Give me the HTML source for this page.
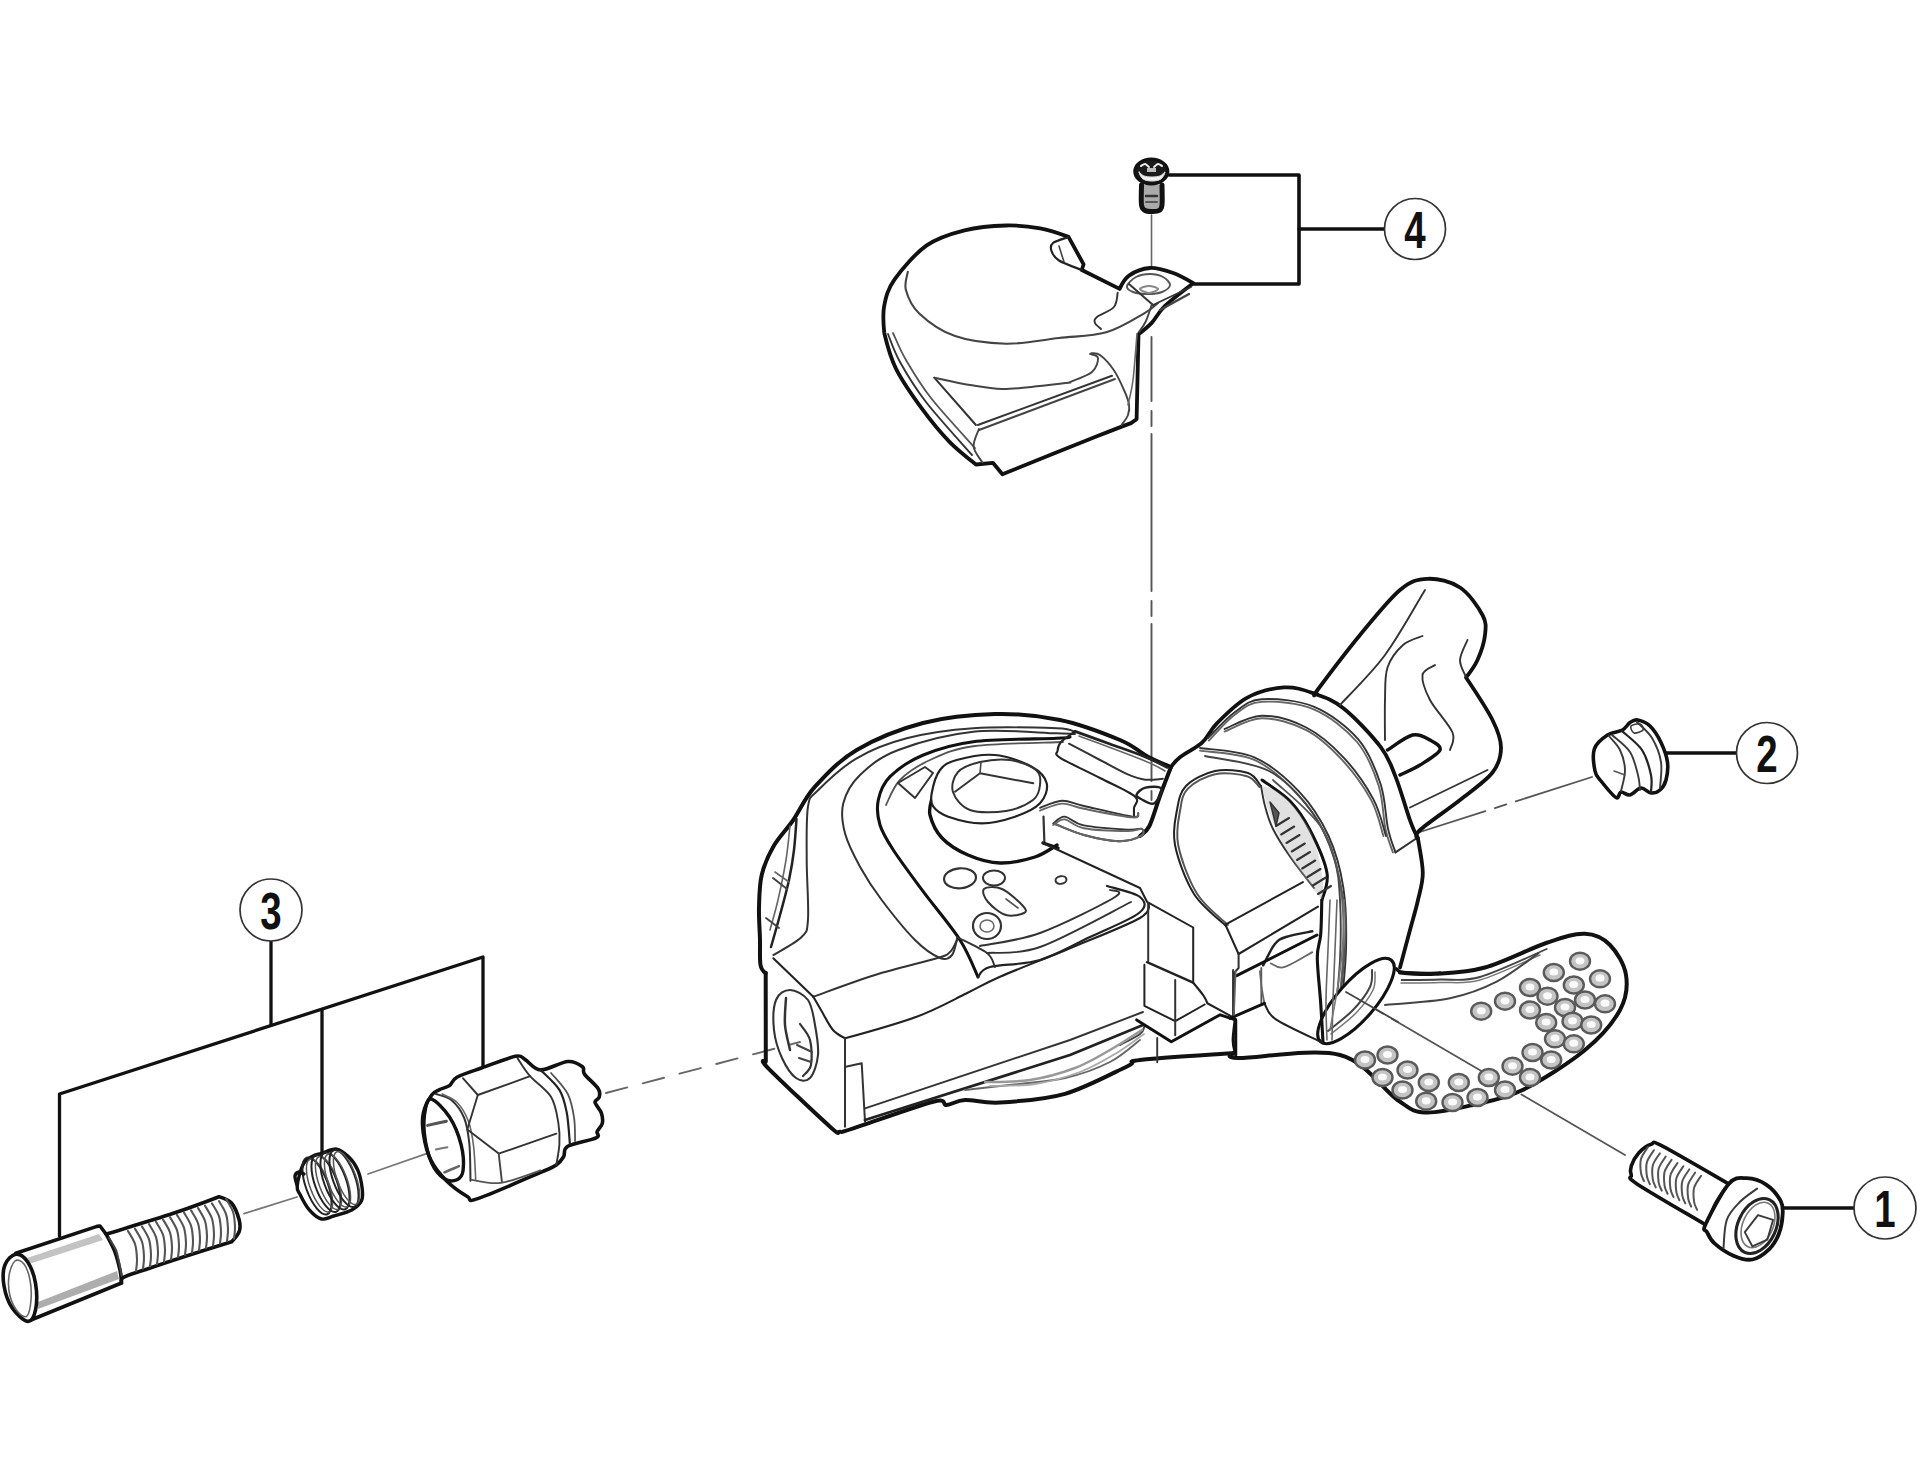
<!DOCTYPE html>
<html><head><meta charset="utf-8"><style>html,body{margin:0;padding:0;background:#fff;}svg{display:block;}</style></head><body><svg width="1920" height="1481" viewBox="0 0 1920 1481" stroke-linecap="round" stroke-linejoin="round"><rect width="1920" height="1481" fill="#fff"/><g>
<path d="M1151.5 215 L1151.5 270" stroke="#666" stroke-width="1.6" fill="none"/>
<path d="M1151.5 337 L1151.5 800" stroke="#555" stroke-width="1.9" fill="none" stroke-dasharray="64 10 15 8 157 10 15 8 157 10 15 8 157"/>
<path d="M1592 777 L1420 832" stroke="#555" stroke-width="1.8" fill="none" stroke-dasharray="80 10 12 10"/>
<path d="M1625 1155 L1346 992" stroke="#555" stroke-width="1.8" fill="none" stroke-dasharray="120 10 10 10"/>
<path d="M606 1093 L800 1042" stroke="#666" stroke-width="1.9" fill="none" stroke-dasharray="22 16"/>
<path d="M244 1213.6 L297 1197" stroke="#777" stroke-width="1.8" fill="none"/>
<path d="M368 1174 L446.7 1146.7" stroke="#777" stroke-width="1.8" fill="none"/>
<path d="M1169 175 L1299 175 L1299 284 L1194 284" stroke="#111" stroke-width="3.6" fill="none"/>
<path d="M1299 229 L1385 229" stroke="#111" stroke-width="3.6" fill="none"/>
<path d="M1665 753 L1737 753" stroke="#111" stroke-width="3.6" fill="none"/>
<path d="M1783 1208 L1854 1208" stroke="#111" stroke-width="3.4" fill="none"/>
<path d="M271 941 L271 1025" stroke="#111" stroke-width="3.3" fill="none"/>
<path d="M59.5 1236 L59.5 1094 L483 957 L483 1066" stroke="#111" stroke-width="3.3" fill="none"/>
<path d="M322 1010 L322 1152" stroke="#111" stroke-width="3.3" fill="none"/>
<circle cx="1415" cy="229" r="30.5" stroke="#333" stroke-width="1.7" fill="#fff"/>
<g transform="translate(1415 229) scale(0.74 1)"><text x="0" y="18.5" font-family="Liberation Sans" font-weight="bold" font-size="52" text-anchor="middle" fill="#111">4</text></g>
<circle cx="1767" cy="753" r="30.5" stroke="#333" stroke-width="1.7" fill="#fff"/>
<g transform="translate(1767 753) scale(0.74 1)"><text x="0" y="18.5" font-family="Liberation Sans" font-weight="bold" font-size="52" text-anchor="middle" fill="#111">2</text></g>
<circle cx="1885" cy="1208" r="31" stroke="#333" stroke-width="1.7" fill="#fff"/>
<g transform="translate(1885 1208) scale(0.74 1)"><text x="0" y="18.5" font-family="Liberation Sans" font-weight="bold" font-size="52" text-anchor="middle" fill="#111">1</text></g>
<circle cx="271" cy="910" r="31" stroke="#333" stroke-width="1.7" fill="#fff"/>
<g transform="translate(271 910) scale(0.74 1)"><text x="0" y="18.5" font-family="Liberation Sans" font-weight="bold" font-size="52" text-anchor="middle" fill="#111">3</text></g>
<path d="M1141.5 185 C1141.5 188.3 1140.9 200.8 1141.5 205 C1142.1 209.2 1143.2 209.4 1145 210.5 C1146.8 211.6 1149.7 211.5 1152 211.5 C1154.3 211.5 1157.3 211.6 1159 210.5 C1160.7 209.4 1161.5 209.2 1162 205 C1162.5 200.8 1162 188.3 1162 185" stroke="#111" stroke-width="5" fill="#aaa"/>
<path d="M1146 196 L1157 196" stroke="#333" stroke-width="2.5" fill="none"/>
<path d="M1146 202 L1157 202" stroke="#555" stroke-width="2" fill="none"/>
<ellipse cx="1151.3" cy="171.5" rx="16.5" ry="12.5" transform="rotate(0 1151.3 171.5)" stroke="#111" stroke-width="3.1" fill="#1a1a1a"/>
<path d="M1139 172 C1138.8 172.5 1140.8 177.5 1143 179 C1145.2 180.5 1149 181 1152 181 C1155 181 1158.8 180.5 1161 179 C1163.2 177.5 1165.2 172.5 1165 172 C1164.8 171.5 1162.2 175.2 1160 176 C1157.8 176.8 1154.7 177 1152 177 C1149.3 177 1146.2 176.8 1144 176 C1141.8 175.2 1139.2 171.5 1139 172Z" stroke="#ddd" stroke-width="1" fill="#f2f2f2"/>
<path d="M1141 166 C1141.7 165.7 1143.7 163.8 1145 164 C1146.3 164.2 1148.3 166.5 1149 167" stroke="#eee" stroke-width="2" fill="none"/>
<path d="M1154 167 C1154.7 166.5 1156.7 164.2 1158 164 C1159.3 163.8 1161.3 165.7 1162 166" stroke="#eee" stroke-width="2" fill="none"/>
<rect x="1147" y="168" width="9" height="4" fill="#bbb"/>
<path d="M1594.4 748.8 C1596.5 742.8 1602.8 738.1 1607.5 735 C1612.2 731.9 1618.8 732.1 1622.5 730 C1626.2 727.9 1627.5 724.2 1630 722.5 C1632.5 720.8 1634.2 719.4 1637.5 720 C1640.8 720.6 1646.1 722.2 1650 726 C1653.9 729.8 1658.1 736.4 1661 742.5 C1663.9 748.6 1666.7 756.2 1667.5 762.5 C1668.3 768.8 1667.2 775.4 1666 780 C1664.8 784.6 1662.5 787.8 1660 790 C1657.5 792.2 1654.2 793.3 1651 793 C1647.8 792.7 1644.5 787.7 1641 788 C1637.5 788.3 1633.3 794.3 1630 795 C1626.7 795.7 1623.3 791.6 1621 792 C1618.7 792.4 1619.3 799.3 1616 797.5 C1612.7 795.7 1604.5 785.4 1601 781 C1597.5 776.6 1596.1 776.4 1595 771 C1593.9 765.6 1592.3 754.8 1594.4 748.8Z" stroke="#111" stroke-width="3.6" fill="#fff"/>
<path d="M1609 736 C1610.8 738.3 1617.3 744.3 1620 750 C1622.7 755.7 1624.8 763.2 1625 770 C1625.2 776.8 1621.7 787.5 1621 791" stroke="#3a3a3a" stroke-width="1.9" fill="none"/>
<path d="M1612 735 C1615 737.8 1625.7 745.3 1630 752 C1634.3 758.7 1636.3 768.7 1638 775 C1639.7 781.3 1639.7 787.5 1640 790" stroke="#3a3a3a" stroke-width="1.9" fill="none"/>
<path d="M1622 731 C1625.3 734.2 1637.2 742.7 1642 750 C1646.8 757.3 1649.5 768 1651 775 C1652.5 782 1651 789.2 1651 792" stroke="#222" stroke-width="2.2" fill="none"/>
<path d="M1637 722 C1639.5 724.7 1648 731.3 1652 738 C1656 744.7 1659.7 753.7 1661 762 C1662.3 770.3 1660.2 783.7 1660 788" stroke="#3a3a3a" stroke-width="1.9" fill="none"/>
<path d="M1631 726 C1632 724.5 1638 723.3 1640 724 C1642 724.7 1644 728.5 1643 730 C1642 731.5 1636 733.7 1634 733 C1632 732.3 1630 727.5 1631 726Z" stroke="#3a3a3a" stroke-width="1.6" fill="none"/>
<path d="M1614 771 L1625 775" stroke="#555" stroke-width="1.5" fill="none"/>
<path d="M1705.1 1224.5 C1693.8 1217.7 1649.3 1192.1 1637 1183.9 C1624.7 1175.7 1632.2 1178.4 1631.3 1175.4 C1630.3 1172.4 1630 1169.7 1631.3 1165.9 C1632.6 1162.1 1635.6 1156.3 1638.9 1152.7 C1642.2 1149.1 1647.3 1145.3 1651.2 1144.2 C1655.1 1143.1 1649.6 1139.5 1662.5 1146.1 C1675.4 1152.7 1717.7 1177.6 1728.7 1183.9" stroke="#111" stroke-width="3.6" fill="#fff"/>
<path d="M1648 1147 C1646.8 1149 1642.2 1154.7 1641 1159 C1639.8 1163.3 1640.5 1169.3 1641 1173 C1641.5 1176.7 1643.5 1179.7 1644 1181" stroke="#555" stroke-width="2" fill="none"/>
<path d="M1653.9 1150.2 C1652.7 1152.2 1648.1 1157.9 1646.9 1162.2 C1645.7 1166.5 1646.4 1172.5 1646.9 1176.2 C1647.4 1179.9 1649.4 1182.9 1649.9 1184.2" stroke="#555" stroke-width="2" fill="none"/>
<path d="M1659.8 1153.4 C1658.6 1155.4 1654 1161.1 1652.8 1165.4 C1651.6 1169.7 1652.3 1175.7 1652.8 1179.4 C1653.3 1183.1 1655.3 1186.1 1655.8 1187.4" stroke="#555" stroke-width="2" fill="none"/>
<path d="M1665.7 1156.6 C1664.5 1158.6 1659.9 1164.3 1658.7 1168.6 C1657.5 1172.9 1658.2 1178.9 1658.7 1182.6 C1659.2 1186.3 1661.2 1189.3 1661.7 1190.6" stroke="#555" stroke-width="2" fill="none"/>
<path d="M1671.6 1159.8 C1670.4 1161.8 1665.8 1167.5 1664.6 1171.8 C1663.4 1176.1 1664.1 1182.1 1664.6 1185.8 C1665.1 1189.5 1667.1 1192.5 1667.6 1193.8" stroke="#555" stroke-width="2" fill="none"/>
<path d="M1677.5 1163 C1676.3 1165 1671.7 1170.7 1670.5 1175 C1669.3 1179.3 1670 1185.3 1670.5 1189 C1671 1192.7 1673 1195.7 1673.5 1197" stroke="#555" stroke-width="2" fill="none"/>
<path d="M1683.4 1166.2 C1682.2 1168.2 1677.6 1173.9 1676.4 1178.2 C1675.2 1182.5 1675.9 1188.5 1676.4 1192.2 C1676.9 1195.9 1678.9 1198.9 1679.4 1200.2" stroke="#555" stroke-width="2" fill="none"/>
<path d="M1689.3 1169.4 C1688.1 1171.4 1683.5 1177.1 1682.3 1181.4 C1681.1 1185.7 1681.8 1191.7 1682.3 1195.4 C1682.8 1199.1 1684.8 1202.1 1685.3 1203.4" stroke="#555" stroke-width="2" fill="none"/>
<path d="M1695.2 1172.6 C1694 1174.6 1689.4 1180.3 1688.2 1184.6 C1687 1188.9 1687.7 1194.9 1688.2 1198.6 C1688.7 1202.3 1690.7 1205.3 1691.2 1206.6" stroke="#555" stroke-width="2" fill="none"/>
<path d="M1701.1 1175.8 C1699.9 1177.8 1695.3 1183.5 1694.1 1187.8 C1692.9 1192.1 1693.6 1198.1 1694.1 1201.8 C1694.6 1205.5 1696.6 1208.5 1697.1 1209.8" stroke="#555" stroke-width="2" fill="none"/>
<path d="M1724.9 1187.7 C1723.2 1190.4 1717.2 1198.4 1714.5 1203.7 C1711.8 1209 1709.4 1217.1 1708.4 1219.8" stroke="#3a3a3a" stroke-width="1.9" fill="none"/>
<path d="M1728.7 1183.9 C1735.6 1176.2 1740.4 1178.1 1746.7 1178.2 C1753 1178.3 1760.8 1181 1766.5 1184.8 C1772.2 1188.6 1778 1195.9 1780.7 1200.9 C1783.4 1206 1782.9 1209.6 1782.6 1215.1 C1782.3 1220.6 1781 1228.3 1778.8 1234 C1776.6 1239.7 1773.7 1244.8 1769.3 1249.1 C1764.9 1253.3 1758.3 1258.4 1752.3 1259.5 C1746.3 1260.6 1739.7 1258.4 1733.4 1255.7 C1727.1 1253 1718.9 1247.3 1714.5 1243.4 C1710.1 1239.5 1708.5 1235.2 1707 1232.1 C1705.5 1228.9 1701.9 1232.5 1705.5 1224.5 C1709.1 1216.5 1721.8 1191.6 1728.7 1183.9Z" stroke="#111" stroke-width="3.8" fill="#fff"/>
<path d="M1757.1 1188.6 C1754.2 1190.8 1745 1196.6 1740 1201.8 C1735 1207 1729.5 1212.1 1726.8 1219.8 C1724 1227.5 1724 1243.4 1723.5 1248.1" stroke="#3a3a3a" stroke-width="2" fill="none"/>
<ellipse cx="1757" cy="1226" rx="19" ry="29" transform="rotate(25 1757 1226)" stroke="#222" stroke-width="3.1" fill="none"/>
<ellipse cx="1758" cy="1225" rx="15" ry="24" transform="rotate(25 1758 1225)" stroke="#777" stroke-width="1.6" fill="none"/>
<path d="M1758 1215.1 L1773.1 1219.8 L1767.4 1239.6 L1752.3 1246.3 L1744.8 1232.1 L1758 1215.1" stroke="#3a3a3a" stroke-width="1.9" fill="none"/>
<path d="M15.8 1253.2 L97 1226.4 L100 1226 L106 1234" stroke="#111" stroke-width="3.6" fill="none"/>
<path d="M106 1234 C107.5 1237 112.7 1246 115 1252 C117.3 1258 118.9 1265.2 120 1270 C121.1 1274.8 121.2 1279.2 121.5 1281" stroke="#111" stroke-width="3.6" fill="none"/>
<path d="M29.7 1320.5 L121.5 1283" stroke="#111" stroke-width="3.6" fill="none"/>
<path d="M24 1259 L99 1234 L103 1240 L26 1265Z" fill="#aaa" opacity="0.7"/>
<path d="M38 1302 L117 1271 L119 1279 L38 1309Z" fill="#999" opacity="0.8"/>
<path d="M15.8 1254.2 C12 1254.7 6.9 1259.7 4.9 1265 C2.9 1270.3 2.8 1278.7 4 1285.8 C5.2 1292.9 8 1301.7 11.9 1307.6 C15.8 1313.5 23.8 1321.1 27.7 1321.4 C31.6 1321.7 34.3 1315.9 35.6 1309.6 C36.9 1303.3 36.9 1291.7 35.6 1283.8 C34.3 1275.9 31 1266.9 27.7 1262 C24.4 1257.1 19.6 1253.7 15.8 1254.2Z" stroke="#111" stroke-width="3.6" fill="#fff"/>
<path d="M15 1261 C12.5 1263 9.8 1270.2 9 1276 C8.2 1281.8 8.5 1290 10 1296 C11.5 1302 15.2 1308.7 18 1312 C20.8 1315.3 24.8 1318 27 1316 C29.2 1314 30.5 1306 31 1300 C31.5 1294 31.2 1286 30 1280 C28.8 1274 26.5 1267.2 24 1264 C21.5 1260.8 17.5 1259 15 1261Z" stroke="#666" stroke-width="1.6" fill="none"/>
<path d="M109 1238 C110.2 1240 114.3 1246 116 1250 C117.7 1254 118 1257.7 119 1262 C120 1266.3 121.2 1273.7 121.7 1276" stroke="#444" stroke-width="2" fill="none"/>
<path d="M106.7 1234 C117.8 1230.5 154.6 1219.5 173.3 1213.3 C192 1207.1 219 1196.7 219 1196.7 C219 1196.7 228.3 1199.4 231.7 1203.3 C235.1 1207.2 237.9 1215.3 239.2 1220 C240.4 1224.7 240.4 1228.1 239.2 1231.7 C237.9 1235.3 231.7 1241.7 231.7 1241.7 C231.7 1241.7 196.3 1252.8 181.7 1257.5 C167.1 1262.2 153.9 1266.7 144.2 1270 C134.5 1273.3 127.1 1275.3 123.3 1277.5 C119.5 1279.7 121.8 1282.1 121.5 1283" stroke="#111" stroke-width="3.6" fill="none"/>
<path d="M128 1231 C129.2 1233.2 133.5 1239.3 135 1244 C136.5 1248.7 136.8 1254.5 137 1259 C137.2 1263.5 136.2 1269 136 1271" stroke="#555" stroke-width="2.1" fill="none"/>
<path d="M135 1228.7 C136.2 1230.9 140.5 1237 142 1241.7 C143.5 1246.4 143.8 1252.2 144 1256.7 C144.2 1261.2 143.2 1266.7 143 1268.7" stroke="#555" stroke-width="2.1" fill="none"/>
<path d="M142 1226.4 C143.2 1228.6 147.5 1234.7 149 1239.4 C150.5 1244.1 150.8 1249.9 151 1254.4 C151.2 1258.9 150.2 1264.4 150 1266.4" stroke="#555" stroke-width="2.1" fill="none"/>
<path d="M149 1224.1 C150.2 1226.3 154.5 1232.4 156 1237.1 C157.5 1241.8 157.8 1247.6 158 1252.1 C158.2 1256.6 157.2 1262.1 157 1264.1" stroke="#555" stroke-width="2.1" fill="none"/>
<path d="M156 1221.8 C157.2 1224 161.5 1230.1 163 1234.8 C164.5 1239.5 164.8 1245.3 165 1249.8 C165.2 1254.3 164.2 1259.8 164 1261.8" stroke="#555" stroke-width="2.1" fill="none"/>
<path d="M163 1219.5 C164.2 1221.7 168.5 1227.8 170 1232.5 C171.5 1237.2 171.8 1243 172 1247.5 C172.2 1252 171.2 1257.5 171 1259.5" stroke="#555" stroke-width="2.1" fill="none"/>
<path d="M170 1217.2 C171.2 1219.4 175.5 1225.5 177 1230.2 C178.5 1234.9 178.8 1240.7 179 1245.2 C179.2 1249.7 178.2 1255.2 178 1257.2" stroke="#555" stroke-width="2.1" fill="none"/>
<path d="M177 1214.9 C178.2 1217.1 182.5 1223.2 184 1227.9 C185.5 1232.6 185.8 1238.4 186 1242.9 C186.2 1247.4 185.2 1252.9 185 1254.9" stroke="#555" stroke-width="2.1" fill="none"/>
<path d="M184 1212.6 C185.2 1214.8 189.5 1220.9 191 1225.6 C192.5 1230.3 192.8 1236.1 193 1240.6 C193.2 1245.1 192.2 1250.6 192 1252.6" stroke="#555" stroke-width="2.1" fill="none"/>
<path d="M191 1210.3 C192.2 1212.5 196.5 1218.6 198 1223.3 C199.5 1228 199.8 1233.8 200 1238.3 C200.2 1242.8 199.2 1248.3 199 1250.3" stroke="#555" stroke-width="2.1" fill="none"/>
<path d="M198 1208 C199.2 1210.2 203.5 1216.3 205 1221 C206.5 1225.7 206.8 1231.5 207 1236 C207.2 1240.5 206.2 1246 206 1248" stroke="#555" stroke-width="2.1" fill="none"/>
<path d="M205 1205.7 C206.2 1207.9 210.5 1214 212 1218.7 C213.5 1223.4 213.8 1229.2 214 1233.7 C214.2 1238.2 213.2 1243.7 213 1245.7" stroke="#555" stroke-width="2.1" fill="none"/>
<path d="M212 1203.4 C213.2 1205.6 217.5 1211.7 219 1216.4 C220.5 1221.1 220.8 1226.9 221 1231.4 C221.2 1235.9 220.2 1241.4 220 1243.4" stroke="#555" stroke-width="2.1" fill="none"/>
<path d="M219 1201.1 C220.2 1203.3 224.5 1209.4 226 1214.1 C227.5 1218.8 227.8 1224.6 228 1229.1 C228.2 1233.6 227.2 1239.1 227 1241.1" stroke="#555" stroke-width="2.1" fill="none"/>
<path d="M226 1198.8 C227.2 1201 231.5 1207.1 233 1211.8 C234.5 1216.5 234.8 1222.3 235 1226.8 C235.2 1231.3 234.2 1236.8 234 1238.8" stroke="#555" stroke-width="2.1" fill="none"/>
<path d="M303.2 1164.3 C305.7 1159.4 309.2 1158.2 312.3 1156.4 C315.4 1154.6 317.4 1154.6 321.5 1153.4 C325.6 1152.2 332.1 1148.5 336.6 1149.1 C341.2 1149.7 345.2 1153.5 348.8 1157 C352.4 1160.5 355.7 1165.1 357.9 1170.4 C360.1 1175.7 361.6 1183.5 362.2 1188.6 C362.8 1193.7 363.2 1197.2 361.5 1200.8 C359.8 1204.3 356.4 1207.4 351.8 1209.9 C347.2 1212.4 338.7 1214.5 333.6 1216 C328.6 1217.5 325.6 1220 321.5 1219 C317.4 1218 312.9 1214 309.3 1209.9 C305.8 1205.9 302.2 1198.8 300.2 1194.7 C298.2 1190.7 296.7 1190.7 297.2 1185.6 C297.7 1180.5 300.7 1169.2 303.2 1164.3Z" stroke="#111" stroke-width="3.4" fill="#fff"/>
<ellipse cx="317" cy="1186" rx="11" ry="30" transform="rotate(-20 317 1186)" stroke="#222" stroke-width="2" fill="none"/>
<ellipse cx="319.5" cy="1185.5" rx="9.5" ry="28" transform="rotate(-20 319.5 1185.5)" stroke="#555" stroke-width="1.5" fill="none"/>
<ellipse cx="326" cy="1183.5" rx="11" ry="30" transform="rotate(-20 326 1183.5)" stroke="#222" stroke-width="2" fill="none"/>
<ellipse cx="328.5" cy="1183" rx="9.5" ry="28" transform="rotate(-20 328.5 1183)" stroke="#555" stroke-width="1.5" fill="none"/>
<ellipse cx="335" cy="1181" rx="11" ry="30" transform="rotate(-20 335 1181)" stroke="#222" stroke-width="2" fill="none"/>
<ellipse cx="337.5" cy="1180.5" rx="9.5" ry="28" transform="rotate(-20 337.5 1180.5)" stroke="#555" stroke-width="1.5" fill="none"/>
<ellipse cx="344" cy="1178.5" rx="11" ry="30" transform="rotate(-20 344 1178.5)" stroke="#222" stroke-width="2" fill="none"/>
<ellipse cx="346.5" cy="1178" rx="9.5" ry="28" transform="rotate(-20 346.5 1178)" stroke="#555" stroke-width="1.5" fill="none"/>
<path d="M297 1185 C296.7 1183.5 294.7 1178.2 295 1176 C295.3 1173.8 297.5 1172.3 299 1172 C300.5 1171.7 303.2 1173.7 304 1174" stroke="#111" stroke-width="3.4" fill="none"/>
<path d="M431.7 1095 C434.3 1091.2 436.1 1091.4 439.1 1089.8 C442.1 1088.2 446.5 1087.7 449.5 1085.6 C452.5 1083.5 451.5 1080.2 456.9 1077.2 C462.3 1074.2 472.2 1071.3 482 1067.8 C491.8 1064.3 508.4 1057.7 515.5 1056.3 C522.6 1054.9 520.7 1057.1 524.9 1059.4 C529.1 1061.7 533.5 1069.6 540.6 1069.9 C547.8 1070.2 560.8 1062 567.8 1061.5 C574.8 1061 579.7 1064.6 582.5 1066.7 C585.3 1068.8 581.9 1070.4 584.5 1074.1 C587.1 1077.8 595.8 1084.9 598.2 1088.7 C600.7 1092.5 599.7 1094.8 599.2 1097.1 C598.7 1099.4 594.6 1099.7 595 1102.3 C595.4 1104.9 600.1 1109.3 601.3 1112.8 C602.5 1116.3 603 1120.2 602.3 1123.3 C601.6 1126.4 598.1 1129.2 597.1 1131.6 C596.1 1134 601 1135.5 596.1 1137.9 C591.2 1140.4 573.2 1143.2 567.8 1146.3 C562.4 1149.4 565.5 1153.7 563.6 1156.8 C561.7 1159.9 560.1 1162.5 556.3 1165.1 C552.5 1167.7 553.7 1166.8 540.6 1172.4 C527.5 1178 490 1194.6 477.8 1198.6 C465.6 1202.6 472.5 1199.5 467.3 1196.5 C462.1 1193.5 452.5 1186.9 446.4 1180.8 C440.3 1174.7 434.5 1167.8 430.7 1159.9 C426.9 1152.1 424.6 1141.6 423.4 1133.7 C422.2 1125.8 422 1119.2 423.4 1112.8 C424.8 1106.3 429.1 1098.8 431.7 1095Z" stroke="#111" stroke-width="3.6" fill="#fff"/>
<path d="M431.7 1099.2 C435.7 1100.6 444.6 1109.5 449.5 1117 C454.4 1124.5 458.7 1135.3 461 1144.2 C463.3 1153.1 463.8 1164.5 463.1 1170.4 C462.4 1176.3 460 1178.4 456.9 1179.8 C453.8 1181.2 448.5 1181.5 444.3 1178.7 C440.1 1175.9 435 1170.5 431.7 1163 C428.4 1155.5 425.4 1142.8 424.4 1133.7 C423.4 1124.6 424.3 1114.3 425.5 1108.6 C426.7 1102.8 427.7 1097.8 431.7 1099.2Z" stroke="#111" stroke-width="3.4" fill="none"/>
<path d="M435.9 1094 C438.5 1095 446.9 1096.2 451.6 1100.2 C456.3 1104.2 461.2 1110.7 464.2 1118 C467.2 1125.3 468.3 1133.7 469.4 1144.2 C470.4 1154.7 470.3 1174.7 470.5 1180.8" stroke="#333" stroke-width="2" fill="none"/>
<path d="M442.2 1094 C444.6 1095.4 452.5 1097.8 456.9 1102.3 C461.3 1106.8 465.6 1113.9 468.4 1121.2 C471.2 1128.5 472.4 1136.5 473.6 1146.3 C474.8 1156.1 475.4 1174.2 475.7 1179.8" stroke="#666" stroke-width="1.6" fill="none"/>
<path d="M463.1 1078.3 L477.8 1095 L530.1 1076.2" stroke="#333" stroke-width="1.9" fill="none"/>
<path d="M477.8 1095 L467.3 1129.5 L498.7 1153.6 L556.3 1133.7" stroke="#333" stroke-width="1.9" fill="none"/>
<path d="M498.7 1153.6 L501.9 1181.9" stroke="#444" stroke-width="1.9" fill="none"/>
<path d="M517.6 1058.4 C519.7 1061.4 524.5 1069.8 530.1 1076.2 C535.7 1082.7 546.4 1089.2 551.1 1097.1 C555.8 1104.9 557 1115.4 558.4 1123.3 C559.8 1131.2 559.8 1137.2 559.4 1144.2 C559 1151.2 556.8 1161.6 556.3 1165.1" stroke="#333" stroke-width="1.9" fill="none"/>
<path d="M540.6 1069.9 C543.7 1073.2 555 1082.7 559.4 1089.8 C563.8 1096.9 565 1103.7 566.8 1112.8 C568.5 1121.9 569.4 1139 569.9 1144.2" stroke="#222" stroke-width="2.2" fill="none"/>
<path d="M551.1 1073 C553.9 1076.5 564 1086.5 567.8 1094 C571.6 1101.5 572.9 1110.2 574.1 1118 C575.3 1125.8 574.9 1137.2 575.1 1141.1" stroke="#555" stroke-width="1.8" fill="none"/>
<path d="M471.5 1179.8 C476.4 1180.3 489.3 1184.5 500.8 1182.9 C512.3 1181.3 534 1172.5 540.6 1170.4" stroke="#555" stroke-width="1.8" fill="none"/>
<path d="M427.6 1125.4 C430.7 1124.7 443.3 1121.9 446.4 1121.2" stroke="#555" stroke-width="3" fill="none"/>
<path d="M435.9 1149.4 C437.8 1149.1 445.5 1147.7 447.4 1147.3" stroke="#777" stroke-width="2" fill="none"/>
<path d="M444.3 1172.4 C446.8 1171.4 456.6 1167.2 459 1166.2" stroke="#666" stroke-width="2.5" fill="none"/>
<path d="M884.2 332.3 C884.2 332.3 882.5 314.7 884.2 305.9 C885.9 297.1 887.5 289.5 894.6 279.4 C901.7 269.3 915.1 253.6 926.7 245.4 C938.4 237.2 951.3 233.6 964.5 230.3 C977.7 227 993.5 225.8 1006.1 225.5 C1018.7 225.2 1029.8 226.5 1040.2 228.4 C1050.6 230.3 1068.5 236.9 1068.5 236.9 C1068.5 236.9 1083.6 264.3 1083.6 264.3 C1083.6 264.3 1081.8 270 1081.8 270 C1081.8 270 1119.6 288.9 1119.6 288.9 C1119.6 288.9 1124 279.1 1129 275.6 C1134 272.1 1142.5 268.5 1149.8 268 C1157 267.5 1165.2 270.3 1172.5 272.8 C1179.8 275.3 1193.3 283.2 1193.3 283.2 C1193.3 283.2 1171.9 299.3 1165 305.9 C1158.1 312.5 1156.1 318.2 1151.7 322.9 C1147.3 327.6 1138.5 334.2 1138.5 334.2 C1138.5 334.2 1136.6 419.3 1136.6 419.3 C1136.6 419.3 1131 423.1 1131 423.1 C1131 423.1 1118.3 427.8 1096.9 436.3 C1075.5 444.8 1002.4 474.2 1002.4 474.2 C1002.4 474.2 992.9 462.8 992.9 462.8 C992.9 462.8 976 464.5 976 464.5 C976 464.5 957.9 450.4 949 441.3 C940.1 432.2 931.5 421.7 922.7 409.7 C913.9 397.7 902.7 381.9 896.3 369.3 C889.9 356.7 884.5 334 884.5 334 C884.5 334 884.2 332.3 884.2 332.3Z" stroke="#111" stroke-width="3.8" fill="#fff"/>
<path d="M1068.5 237 C1065.9 238 1055.8 240.7 1053 243 C1050.2 245.3 1050.5 248.1 1051.5 251 C1052.5 253.9 1054 257.3 1059 260.5 C1064 263.7 1078 268.4 1081.8 270" stroke="#222" stroke-width="2.2" fill="none"/>
<path d="M1059 246 L1064 262" stroke="#444" stroke-width="1.6" fill="none"/>
<path d="M907.8 271.8 C907.5 274.8 904 283.1 905.9 290 C907.8 296.9 911 305.7 919.2 313.4 C927.4 321.1 940.6 331.1 955.1 336.1 C969.6 341.2 988.8 343.4 1006.1 343.7 C1023.4 344 1042.3 339.9 1059 338 C1075.7 336.1 1092.1 336.4 1106.3 332.3 C1120.5 328.2 1135.6 318.3 1144.2 313.4 C1152.8 308.5 1155.7 304.7 1158 303" stroke="#444" stroke-width="2.1" fill="none"/>
<path d="M1117.7 292.6 C1117.1 295 1117.4 302.9 1113.9 307 C1110.5 311.1 1100.2 314.3 1097 317 C1093.8 319.7 1094.3 321 1095 323 C1095.7 325 1100 328 1101 329" stroke="#333" stroke-width="1.9" fill="none"/>
<path d="M1127 286 C1127.5 283.5 1132.2 279 1136 277 C1139.8 275 1145.5 274 1150 274 C1154.5 274 1159.7 275.2 1163 277 C1166.3 278.8 1170.2 282.5 1170 285 C1169.8 287.5 1165.7 290.5 1162 292 C1158.3 293.5 1152.8 294 1148 294 C1143.2 294 1136.5 293.3 1133 292 C1129.5 290.7 1126.5 288.5 1127 286Z" stroke="#555" stroke-width="1.9" fill="none"/>
<path d="M1140 289 C1140 287.8 1146 286 1149 286 C1152 286 1158 287.8 1158 289 C1158 290.2 1152 293 1149 293 C1146 293 1140 290.2 1140 289Z" stroke="#888" stroke-width="2" fill="none"/>
<path d="M1129 284 L1153 305" stroke="#333" stroke-width="2" fill="none"/>
<path d="M1153 305 L1191 287" stroke="#333" stroke-width="1.9" fill="none"/>
<path d="M1160 310 L1189 294" stroke="#444" stroke-width="2.5" fill="none"/>
<path d="M1152 304 C1151 306.8 1148.2 316.3 1146 321 C1143.8 325.7 1140.2 330.2 1139 332" stroke="#444" stroke-width="1.9" fill="none"/>
<path d="M888 334 C890 338.7 893.7 350.7 900 362 C906.3 373.3 914 386.5 926 402 C938 417.5 964.3 446.2 972 455" stroke="#333" stroke-width="1.9" fill="none"/>
<path d="M893 333 C895.2 337.5 899.7 349.2 906 360 C912.3 370.8 919.5 383.3 931 398 C942.5 412.7 967.7 439.7 975 448" stroke="#555" stroke-width="1.8" fill="none"/>
<path d="M934.3 377.7 L975.9 425" stroke="#333" stroke-width="2" fill="none"/>
<path d="M934.3 377.7 C940.2 378.9 958.6 383.1 970 385 C981.4 386.9 990.7 388.8 1002.4 389 C1014.1 389.2 1028.7 387.1 1040 386 C1051.3 384.9 1065.3 383.1 1070.4 382.5" stroke="#444" stroke-width="2" fill="none"/>
<path d="M1091.2 353.2 C1092.7 353.5 1096.2 352.2 1100 355 C1103.8 357.8 1109.9 364.4 1113.9 370.2 C1117.9 376 1121.5 384.3 1124 390 C1126.5 395.7 1128.3 400 1129 404.2 C1129.7 408.4 1129.2 411.5 1128 415 C1126.8 418.5 1122.6 423.3 1121.5 425" stroke="#444" stroke-width="1.9" fill="none"/>
<path d="M1090 354 C1091.3 354.7 1097.7 355 1098 358 C1098.3 361 1096.7 368 1092 372 C1087.3 376 1073.7 380.3 1070 382" stroke="#444" stroke-width="1.9" fill="none"/>
<path d="M977.8 425 L1112 375.8" stroke="#333" stroke-width="2" fill="none"/>
<path d="M979 430 L1115 379" stroke="#444" stroke-width="1.9" fill="none"/>
<path d="M978.9 429 C978 431.9 973 441 973.6 446.6 C974.2 452.2 980.9 459.8 982.4 462.4" stroke="#444" stroke-width="1.9" fill="none"/>
<path d="M1137 334 C1136.3 341.7 1134.5 368.2 1133 380 C1131.5 391.8 1128.8 400.8 1128 405" stroke="#666" stroke-width="1.6" fill="none"/>
<path d="M765.7 973 C765.7 973 761.5 970.5 760.5 965 C759.5 959.5 760.2 949.5 760 940 C759.8 930.5 758.7 918.8 759 908 C759.3 897.2 759.3 885.2 761.7 875 C764.1 864.8 768 855.9 773.3 846.7 C778.6 837.5 786.3 830 793.3 820 C800.2 810 804.4 798.4 815 786.7 C825.6 775 838.7 760.6 856.7 750 C874.7 739.4 900 729 923 723 C946 717 972.2 714.5 995 714 C1017.8 713.5 1039.2 715.7 1060 720 C1080.8 724.3 1105.3 733.9 1120 740 C1134.7 746.1 1139.5 752.2 1148 756.7 C1156.5 761.2 1171 767 1171 767" stroke="#111" stroke-width="4" fill="none"/>
<path d="M1171 767 C1171 767 1163.9 785.2 1160.3 795 C1156.7 804.8 1152.8 819.2 1149.4 826 C1146 832.8 1141.6 834.3 1140 836" stroke="#111" stroke-width="4" fill="none"/>
<path d="M765.7 973 C765.7 973 765.8 1061.7 765.8 1061.7 C765.8 1061.7 757.6 1057.5 768.3 1068.3 C779 1079.1 818 1116.1 830 1126.7 C842 1137.3 836.1 1131.4 840 1131.7 C843.9 1132 837.8 1133.3 853.3 1128.3 C868.8 1123.3 917.7 1105.6 933.3 1101.7 C948.9 1097.8 941.4 1105.3 946.7 1105 C952 1104.7 956.1 1100.4 965 1100 C973.9 1099.6 983.3 1103.5 1000 1102.5 C1016.7 1101.5 1043.8 1099.8 1065 1093.8 C1086.2 1087.7 1115 1071.9 1127.5 1066.2 C1140 1060.6 1122.1 1062.2 1140 1060 C1157.9 1057.8 1219.2 1054.2 1235 1053" stroke="#111" stroke-width="4" fill="none"/>
<path d="M1235 1052 C1235.5 1053 1220.5 1057.5 1238 1058 C1255.5 1058.5 1313.4 1048 1340 1055 C1366.6 1062 1383.3 1090.4 1397.5 1100 C1411.7 1109.6 1412.5 1111.7 1425 1112.5 C1437.5 1113.3 1456.2 1108.8 1472.5 1105 C1488.8 1101.2 1503.8 1099.2 1522.5 1090 C1541.2 1080.8 1568.8 1063.3 1585 1050 C1601.2 1036.7 1613.2 1022.5 1620 1010 C1626.8 997.5 1627.7 985.8 1626 975 C1624.3 964.2 1616.8 951.9 1610 945 C1603.2 938.1 1595.4 934.2 1585 933.8 C1574.6 933.3 1564.2 936.9 1547.5 942.5 C1530.8 948.1 1503.8 962.3 1485 967.5 C1466.2 972.7 1449.2 972.9 1435 973.8 C1420.8 974.6 1400 972.5 1400 972.5" stroke="#111" stroke-width="4" fill="none"/>
<path d="M1235 1052 C1235 1052 1233 1045.3 1233 1040 C1233 1034.7 1234.7 1023.3 1235 1020" stroke="#111" stroke-width="2.8" fill="none"/>
<path d="M773.4 955 C778.1 952 795.8 943 801.6 937 C807.4 931 807.1 931.8 808 919 C808.9 906.2 806.7 878.7 806.7 860 C806.7 841.3 806.1 818.4 808 806.7 C809.9 795 810.2 798.1 818.3 790 C826.4 781.9 842 766.9 856.7 758.3 C871.4 749.7 887.3 743.3 906.7 738.3 C926.1 733.3 948.3 730 973.3 728.3 C998.3 726.6 1039.8 727.7 1056.7 728.3 C1073.7 728.9 1072 731.4 1075 732" stroke="#333" stroke-width="2" fill="none"/>
<path d="M1075 734 C1072 733.9 1073.7 733.7 1056.7 733.3 C1039.8 732.9 999.7 728.9 973.3 731.7 C946.9 734.5 917.2 742.8 898.3 750 C879.4 757.2 869.2 766.1 860 775 C850.8 783.9 845.8 793.6 843.3 803.3 C840.8 813 842.2 822.7 845 833.3 C847.8 843.9 853.9 855.6 860 866.7 C866.1 877.8 872.5 887.8 881.7 900 C890.9 912.2 905.3 930.3 915 940 C924.7 949.7 933.8 955.5 940 958 C946.2 960.5 949.1 958.5 952 955 C954.9 951.5 956.6 940 957.5 937" stroke="#333" stroke-width="2" fill="none"/>
<path d="M1070 737 C1067.8 737.2 1072.8 737.5 1056.7 738.3 C1040.6 739.1 995.5 738.9 973.3 741.7 C951.1 744.5 937.2 749.2 923.3 755 C909.4 760.8 897.5 769.2 890 776.7 C882.5 784.2 880 792 878.3 800 C876.6 808 877.5 816.7 880 825 C882.5 833.3 886.1 838.9 893.3 850 C900.5 861.1 912.2 876.7 923.3 891.7 C934.4 906.7 950.9 925.8 960 940 C969.1 954.2 975 970.8 978 977" stroke="#111" stroke-width="3.1" fill="none"/>
<path d="M1063 742 C1048.3 742.7 997.2 743 975 746 C952.8 749 942.5 754.3 930 760 C917.5 765.7 907.3 772.5 900 780 C892.7 787.5 888.3 800.8 886 805" stroke="#555" stroke-width="1.8" fill="none"/>
<path d="M932 798 C931.7 800.8 928.3 808.3 930 815 C931.7 821.7 935.7 831.3 942 838 C948.3 844.7 958.3 850.8 968 855 C977.7 859.2 988.8 862.7 1000 863 C1011.2 863.3 1025.5 860 1035 857 C1044.5 854 1053.3 847 1057 845" stroke="#111" stroke-width="3.4" fill="none"/>
<path d="M931.7 793.3 C932.8 787.2 935.8 775.5 940 770 C944.2 764.5 947.5 762.5 956.7 760 C965.9 757.5 982.5 753.9 995 755 C1007.5 756.1 1023.1 762 1031.7 766.7 C1040.3 771.4 1045.3 777.2 1046.7 783.3 C1048.1 789.4 1045.3 797.7 1040 803.3 C1034.7 808.9 1024.7 813.4 1015 816.7 C1005.3 820 992.8 823.3 981.7 823.3 C970.6 823.3 956.4 819.5 948.3 816.7 C940.2 813.9 936.1 810.6 933.3 806.7 C930.5 802.8 930.6 799.4 931.7 793.3Z" stroke="#222" stroke-width="2.2" fill="#fff"/>
<path d="M953 792 C951 785.7 953.5 777 958 772 C962.5 767 971.3 764 980 762 C988.7 760 1000.7 758.7 1010 760 C1019.3 761.3 1031 765.8 1036 770 C1041 774.2 1040.5 780 1040 785 C1039.5 790 1038.7 795.7 1033 800 C1027.3 804.3 1016.5 809.3 1006 811 C995.5 812.7 978.8 813.2 970 810 C961.2 806.8 955 798.3 953 792Z" stroke="#333" stroke-width="2" fill="none"/>
<path d="M955 791.7 L980 773.3 L1033.3 783.3" stroke="#333" stroke-width="1.9" fill="none"/>
<path d="M980 773.3 L981 762" stroke="#444" stroke-width="1.6" fill="none"/>
<path d="M1075.1 731.4 C1072.8 733.2 1063.9 738.8 1061 742 C1058.1 745.2 1057.7 748.1 1057.6 750.7 C1057.5 753.3 1053.1 753.2 1060.2 757.8 C1067.3 762.3 1087.6 771.6 1100 778 C1112.4 784.4 1129.1 791.4 1134.8 796.4 C1140.5 801.4 1134.1 804.6 1134 808 C1133.9 811.4 1134 815.2 1134 816.6" stroke="#222" stroke-width="2.1" fill="none"/>
<path d="M1069 743.7 C1074.2 746.4 1090.2 754.9 1100 760 C1109.8 765.1 1120.2 771.1 1127.8 774.4 C1135.4 777.7 1139.6 779 1145.4 779.7 C1151.2 780.4 1160 778.9 1162.9 778.8" stroke="#333" stroke-width="2" fill="none"/>
<path d="M1075.1 731.4 C1080.9 733.5 1098.3 739.8 1110 744 C1121.7 748.2 1135.9 753 1145.4 756.9 C1155 760.8 1163.7 765.6 1167.3 767.4" stroke="#222" stroke-width="2.8" fill="none"/>
<path d="M1079 736 C1090 740.2 1130.7 755.2 1145 761 C1159.3 766.8 1161.7 769.3 1165 771" stroke="#666" stroke-width="1.6" fill="none"/>
<path d="M1136.6 794.6 C1137.3 792.7 1141.3 788.6 1145.4 787.6 C1149.5 786.6 1159.8 785.9 1161.2 788.5 C1162.7 791.1 1157.5 801.6 1154.1 803.4 C1150.7 805.1 1143.9 800.5 1141 799 C1138.1 797.5 1135.9 796.5 1136.6 794.6Z" stroke="#222" stroke-width="2.5" fill="none"/>
<path d="M1040 807.8 C1043.7 806.6 1054.7 801.1 1062 800.8 C1069.3 800.5 1072.2 803.4 1083.9 806 C1095.6 808.6 1123.1 815.4 1132.2 816.6 C1141.3 817.8 1137.3 813.6 1138.3 813" stroke="#333" stroke-width="1.9" fill="none"/>
<path d="M1040 810.6 C1043.7 809.4 1054.7 803.9 1062 803.6 C1069.3 803.3 1072.2 806.5 1083.9 808.8 C1095.6 811.1 1123.1 816.7 1132.2 817.4 C1141.3 818.1 1137.3 813.7 1138.3 813" stroke="#666" stroke-width="1.9" fill="none"/>
<path d="M1053.2 823.6 C1055.1 822.4 1059.5 816.3 1064.6 816.6 C1069.7 816.9 1073.4 823.2 1083.9 825.4 C1094.4 827.6 1118.2 829.1 1127.8 829.7 C1137.4 830.3 1139.6 827.9 1141.8 828.9 C1144 829.9 1144.8 833.8 1141 835.9 C1137.2 838 1128.5 841.4 1119 841.2 C1109.5 841.1 1094.6 837.9 1083.9 835 C1073.2 832.1 1059.8 825.8 1055 824" stroke="#333" stroke-width="1.9" fill="none"/>
<path d="M1053.2 825 C1055.1 824.1 1059.5 818.9 1064.6 819.4 C1069.7 819.9 1073.4 826.2 1083.9 828.2 C1094.4 830.1 1118.2 831 1127.8 831.1 C1137.4 831.2 1139.6 828.1 1141.8 828.9 C1144 829.7 1144.8 833.8 1141 835.9 C1137.2 838 1128.5 841.4 1119 841.2 C1109.5 841.1 1094.6 837.9 1083.9 835 C1073.2 832.1 1059.8 825.8 1055 824" stroke="#666" stroke-width="1.9" fill="none"/>
<path d="M1043.5 816.6 L1044.4 843" stroke="#333" stroke-width="2.2" fill="none"/>
<path d="M1043 843 L1058 848" stroke="#111" stroke-width="3.4" fill="none"/>
<ellipse cx="960" cy="878.3" rx="16" ry="10" transform="rotate(-5 960 878.3)" stroke="#333" stroke-width="2.2" fill="none"/>
<ellipse cx="994" cy="878" rx="11" ry="7.5" transform="rotate(0 994 878)" stroke="#333" stroke-width="2" fill="none"/>
<path d="M984 889 C981.7 891.2 984.3 897.7 988 902 C991.7 906.3 1000 913.2 1006 915 C1012 916.8 1021.2 914.5 1024 913 C1026.8 911.5 1026.7 910 1023 906 C1019.3 902 1008.5 891.8 1002 889 C995.5 886.2 986.3 886.8 984 889Z" stroke="#333" stroke-width="2" fill="none"/>
<path d="M1006 899 L1018 908" stroke="#555" stroke-width="1.6" fill="none"/>
<ellipse cx="987" cy="926" rx="14" ry="13" transform="rotate(0 987 926)" stroke="#333" stroke-width="2.2" fill="none"/>
<ellipse cx="987" cy="926" rx="7" ry="6" transform="rotate(0 987 926)" stroke="#666" stroke-width="1.6" fill="none"/>
<ellipse cx="1061" cy="880" rx="5.5" ry="3.8" transform="rotate(-10 1061 880)" stroke="#333" stroke-width="2" fill="none"/>
<path d="M796.5 819 C796.1 824.2 795.2 839.8 794 850 C792.8 860.2 791.3 869.2 789 880 C786.7 890.8 783 903.8 780 915 C777 926.2 772.5 941.7 771 947" stroke="#222" stroke-width="2.5" fill="none"/>
<path d="M790 826 C789.3 831.7 788 847.7 786 860 C784 872.3 780.7 888.3 778 900 C775.3 911.7 771.3 925 770 930" stroke="#666" stroke-width="1.6" fill="none"/>
<path d="M773 878 L787 889" stroke="#444" stroke-width="2" fill="none"/>
<path d="M775 872 L789 882" stroke="#666" stroke-width="1.6" fill="none"/>
<path d="M766 918 L779 928" stroke="#444" stroke-width="1.9" fill="none"/>
<path d="M898 783 L925 767 L933 773 L915 798 L898 783" stroke="#333" stroke-width="2" fill="none"/>
<path d="M773.3 958.3 L813.3 996.7" stroke="#222" stroke-width="2.1" fill="none"/>
<path d="M813.3 996.7 C823.6 993.1 854.4 981.4 875 975 C895.6 968.6 924.2 962.1 936.7 958.3 C949.2 954.5 946.6 955 950 952 C953.4 949 955.8 942 957 940" stroke="#333" stroke-width="2" fill="none"/>
<path d="M813.3 996.7 C814.6 998.9 817.7 1004.5 821 1010 C824.3 1015.5 829 1025.3 833 1030 C837 1034.7 843 1036.9 845 1038.3" stroke="#222" stroke-width="2.1" fill="none"/>
<path d="M845 1038.3 C845 1038.3 896.4 1024.2 916.7 1016.7 C937 1009.2 952.8 1000 966.7 993.3 C980.6 986.6 982.8 984.2 1000 976.7 C1017.2 969.2 1046.7 958.1 1070 948.3 C1093.3 938.5 1127 925.5 1140 918 C1153 910.5 1148 903 1148 903" stroke="#222" stroke-width="2.1" fill="none"/>
<path d="M845 1038.3 L845 1126.7" stroke="#333" stroke-width="2" fill="none"/>
<path d="M845.8 1066.7 L861.7 1063.3 L865 1121.7" stroke="#333" stroke-width="2" fill="none"/>
<path d="M865 1108.3 L1070 1040 L1143 1012" stroke="#333" stroke-width="1.9" fill="none"/>
<path d="M865 1120 L1070 1055 L1143 1025" stroke="#222" stroke-width="2.8" fill="none"/>
<path d="M790 990 C795.3 990 803.8 994.2 808 1000 C812.2 1005.8 813.3 1015.8 815 1025 C816.7 1034.2 818.8 1046.2 818 1055 C817.2 1063.8 813.7 1074.2 810 1078 C806.3 1081.8 800.7 1081.3 796 1078 C791.3 1074.7 785.7 1066 782 1058 C778.3 1050 775 1039.7 774 1030 C773 1020.3 773.3 1006.7 776 1000 C778.7 993.3 784.7 990 790 990Z" stroke="#333" stroke-width="2.1" fill="none"/>
<path d="M786 998 C785.8 1002.5 784.3 1016.3 785 1025 C785.7 1033.7 789.2 1045.8 790 1050" stroke="#333" stroke-width="2.5" fill="none"/>
<path d="M800 1024 C801.7 1026.7 808.2 1033.2 810 1040 C811.8 1046.8 812.2 1059 811 1065 C809.8 1071 804.3 1074.2 803 1076" stroke="#333" stroke-width="2.2" fill="none"/>
<path d="M797 1045 L812 1052" stroke="#444" stroke-width="2" fill="none"/>
<path d="M799 1058 L811 1062" stroke="#444" stroke-width="2" fill="none"/>
<path d="M965 1090 C970.8 1089.3 983.3 1088 1000 1086 C1016.7 1084 1046.7 1082 1065 1078 C1083.3 1074 1097.5 1068.3 1110 1062 C1122.5 1055.7 1135 1043.7 1140 1040" stroke="#666" stroke-width="1.9" fill="none"/>
<path d="M1120 1045 C1123.3 1043.2 1135.8 1037.3 1140 1034 C1144.2 1030.7 1144.2 1026.5 1145 1025" stroke="#444" stroke-width="2" fill="none"/>
<path d="M985 1082 C992.5 1081.7 1015 1082.3 1030 1080 C1045 1077.7 1061.7 1073 1075 1068 C1088.3 1063 1098.8 1056.3 1110 1050 C1121.2 1043.7 1136.7 1033.3 1142 1030" stroke="#999" stroke-width="2.5" fill="none"/>
<path d="M990 1086 C997.5 1085.7 1020 1086.3 1035 1084 C1050 1081.7 1066.7 1077 1080 1072 C1093.3 1067 1104.3 1060.3 1115 1054 C1125.7 1047.7 1139.2 1037.3 1144 1034" stroke="#aaa" stroke-width="1.8" fill="none"/>
<path d="M1107 886 C1112.5 887.8 1134.7 892.5 1140 897 C1145.3 901.5 1147.3 906.3 1139 913 C1130.7 919.7 1106.5 929.2 1090 937 C1073.5 944.8 1056.7 955 1040 960 C1023.3 965 1000.3 964.2 990 967 C979.7 969.8 980 975.3 978 977" stroke="#222" stroke-width="2.2" fill="none"/>
<path d="M1110 890 C1110.8 891.2 1126.7 889.8 1115 897 C1103.3 904.2 1062.5 924.8 1040 933 C1017.5 941.2 990 943.8 980 946" stroke="#333" stroke-width="2" fill="none"/>
<path d="M1131 902 C1115.8 909.5 1064 938.5 1040 947 C1016 955.5 995.8 952 987 953" stroke="#333" stroke-width="1.9" fill="none"/>
<path d="M957 937 C962 939.7 980.7 948 987 953 C993.3 958 993.7 964.7 995 967" stroke="#333" stroke-width="1.9" fill="none"/>
<path d="M1043 843 L1140 888 L1147 901.8 L1193.2 927.5 L1193.2 981.4" stroke="#222" stroke-width="2" fill="none"/>
<path d="M1148.2 903.1 L1148.2 960.9" stroke="#333" stroke-width="2" fill="none"/>
<path d="M1147 962.2 L1193.2 982.7" stroke="#222" stroke-width="2.5" fill="none"/>
<path d="M1193.2 982.7 C1194.9 984.8 1201.1 992.1 1203.4 995.5 C1205.8 998.9 1207.3 1003.2 1207.3 1003.2 C1207.3 1003.2 1230.8 1016 1235.5 1018.6" stroke="#222" stroke-width="2.2" fill="none"/>
<path d="M1144.4 964.7 L1144.4 1005.8 L1175.2 1021.2 L1204.7 1004.5" stroke="#222" stroke-width="2" fill="none"/>
<path d="M1175.2 980.1 L1175.2 1035.3" stroke="#333" stroke-width="2" fill="none"/>
<path d="M1136.7 1019.9 L1171.3 1041.7 L1220.1 1014.8 L1235.5 1019.9" stroke="#111" stroke-width="3" fill="none"/>
<path d="M1157.2 1037.9 L1157.2 1062.3" stroke="#333" stroke-width="1.9" fill="none"/>
<path d="M1233 969.9 L1233 1016.1" stroke="#333" stroke-width="1.9" fill="none"/>
<path d="M1171 767 C1171 767 1174.8 761.4 1180 757.3 C1185.2 753.2 1196.1 748.1 1202.3 742.4 C1208.5 736.7 1209.7 730.5 1217.1 723.1 C1224.5 715.7 1235.8 703.8 1246.9 697.8 C1258.1 691.8 1272.9 688.1 1284 687.4 C1295.1 686.7 1303.8 689.9 1313.7 693.4 C1323.6 696.9 1332.2 699.3 1343.4 708.2 C1354.6 717.1 1371.9 735.5 1380.6 746.9 C1389.3 758.3 1390.5 764.2 1395.5 776.6 C1400.5 789 1406.6 811.1 1410.3 821.2 C1414 831.4 1417.7 837.5 1417.7 837.5" stroke="#111" stroke-width="3.8" fill="none"/>
<path d="M1395.5 852.4 L1417.7 837.5" stroke="#333" stroke-width="2.1" fill="none"/>
<path d="M1208 738 C1212.5 733.7 1226 718.5 1235 712 C1244 705.5 1248.6 700.2 1261.7 699.3 C1274.8 698.4 1297.6 700 1313.7 706.7 C1329.8 713.4 1347.2 726.5 1358.3 739.4 C1369.4 752.3 1375.6 769.1 1380.6 784 C1385.5 798.9 1385.5 817.2 1388 828.6 C1390.5 840 1394.2 848.4 1395.5 852.4" stroke="#333" stroke-width="1.9" fill="none"/>
<path d="M1208.8 740.6 C1213.2 736.3 1226.2 721.1 1235 714.6 C1243.8 708.1 1248.6 702.8 1261.7 701.9 C1274.8 701 1297.8 702.6 1313.7 709.3 C1329.6 716 1346.2 729.3 1357 742 C1367.8 754.7 1373.8 770.9 1378.5 785.3 C1383.3 799.7 1383 817.4 1385.4 828.6 C1387.8 839.8 1391.7 848.4 1392.9 852.4" stroke="#666" stroke-width="1.9" fill="none"/>
<path d="M1224.6 729 C1230.8 726.8 1248.1 716 1261.7 715.7 C1275.3 715.5 1292.7 720.6 1306.3 727.5 C1319.9 734.4 1332.2 745.4 1343.4 757.3 C1354.6 769.2 1366.1 785.8 1373.2 798.9 C1380.3 812 1383.9 829.8 1386 836" stroke="#333" stroke-width="1.9" fill="none"/>
<path d="M1224.6 731.6 C1230.8 729.4 1248.1 718.6 1261.7 718.3 C1275.3 718.1 1292.9 723.2 1306.3 730.1 C1319.7 737 1331.3 748.3 1342.1 759.9 C1352.9 771.5 1364.2 787.3 1371.1 799.9 C1378 812.6 1381.4 830 1383.4 836" stroke="#666" stroke-width="1.9" fill="none"/>
<path d="M1200 748 C1209 749.5 1237.8 750.1 1254.3 757.3 C1270.8 764.5 1286.5 778.3 1298.9 791.4 C1311.3 804.5 1321.2 819.9 1328.6 836 C1336 852.1 1340.5 869 1343.4 888 C1346.3 907 1346.6 928 1346 950 C1345.4 972 1341 1008.3 1340 1020" stroke="#333" stroke-width="1.9" fill="none"/>
<path d="M1200 750.6 C1209 752.1 1238.1 752.7 1254.3 759.9 C1270.5 767.1 1285.3 781.1 1297.3 794 C1309.4 806.9 1319.3 821.6 1326.5 837.3 C1333.8 853 1338 869.2 1340.8 888 C1343.6 906.8 1344 928 1343.4 950 C1342.8 972 1338.4 1008.3 1337.4 1020" stroke="#666" stroke-width="1.9" fill="none"/>
<path d="M1205 756 C1215.7 758.5 1251.2 761.7 1269 771 C1286.8 780.3 1301.2 797.5 1312 812 C1322.8 826.5 1329.3 843.3 1334 858 C1338.7 872.7 1339 883 1340 900 C1341 917 1341 939.2 1340 960 C1339 980.8 1335 1014.2 1334 1025" stroke="#444" stroke-width="1.9" fill="none"/>
<path d="M1262 780 C1266.7 783.5 1282 792.7 1290 801 C1298 809.3 1303.8 818 1310 830 C1316.2 842 1325 861.3 1327 873 C1329 884.7 1322.8 895.5 1322 900" stroke="#111" stroke-width="3" fill="none"/>
<path d="M1226 926 C1220.7 920.7 1202.5 907.5 1194 894 C1185.5 880.5 1177.8 859 1175 845 C1172.2 831 1175.2 819.8 1177 810 C1178.8 800.2 1179.7 792.5 1186 786 C1192.3 779.5 1204.7 773.2 1215 771 C1225.3 768.8 1240.3 770.5 1248 773 C1255.7 775.5 1258.8 783.8 1261 786" stroke="#222" stroke-width="2" fill="none"/>
<path d="M1227.9 925 C1222.8 919.9 1205.5 907.3 1197.2 894 C1188.9 880.7 1181 859 1178.2 845 C1175.4 831 1178.6 819.4 1180.2 810 C1181.8 800.6 1182.1 794.5 1187.9 788.6 C1193.7 782.6 1205.1 776.3 1215 774.2 C1224.9 772.1 1239.6 774.1 1247 776.2 C1254.4 778.3 1257.3 785.2 1259.4 787" stroke="#555" stroke-width="2" fill="none"/>
<path d="M1261 786 C1261.7 789.3 1263 798.8 1265 806 C1267 813.2 1268.7 820.3 1273 829 C1277.3 837.7 1284.2 848.2 1291 858 C1297.8 867.8 1310.2 883 1314 888" stroke="#333" stroke-width="1.9" fill="none"/>
<path d="M1225.4 924.7 L1302.9 882.1" stroke="#222" stroke-width="2" fill="none"/>
<path d="M1238.6 954 L1318 906.7" stroke="#222" stroke-width="2.1" fill="none"/>
<path d="M1226 926 L1238.6 954" stroke="#222" stroke-width="2" fill="none"/>
<path d="M1262 786 C1266 806 1273 829 1291 858 C1300 872 1310 885 1322 900 C1326 880 1318 850 1310 830 C1295 805 1280 788 1262 786Z" fill="#aaa" opacity="0.35"/>
<path d="M1270 802 L1279 813 L1276 826 L1270 802" stroke="#333" stroke-width="1.5" fill="#555"/>
<path d="M1276 826 L1289 818" stroke="#333" stroke-width="2.1" fill="none"/>
<path d="M1281.2 834.5 L1294.2 826.5" stroke="#333" stroke-width="2.1" fill="none"/>
<path d="M1286.5 843 L1299.5 835" stroke="#333" stroke-width="2.1" fill="none"/>
<path d="M1291.8 851.5 L1304.8 843.5" stroke="#333" stroke-width="2.1" fill="none"/>
<path d="M1297 860 L1310 852" stroke="#333" stroke-width="2.1" fill="none"/>
<path d="M1302.2 868.5 L1315.2 860.5" stroke="#333" stroke-width="2.1" fill="none"/>
<path d="M1307.5 877 L1320.5 869" stroke="#333" stroke-width="2.1" fill="none"/>
<path d="M1312.8 885.5 L1325.8 877.5" stroke="#333" stroke-width="2.1" fill="none"/>
<path d="M1318 894 L1331 886" stroke="#333" stroke-width="2.1" fill="none"/>
<path d="M1418 838.8 C1418.8 844.5 1422.8 862.8 1422.8 873 C1422.8 883.2 1420.1 890.5 1418 900 C1415.9 909.5 1413 918.8 1410 930 C1407 941.2 1401.7 961.2 1400 967.5" stroke="#111" stroke-width="3.8" fill="none"/>
<path d="M1273 780 C1281.3 788.3 1311.3 810.5 1323 830 C1334.7 849.5 1339.3 877.5 1343 897 C1346.7 916.5 1345.8 926.5 1345 947 C1344.2 967.5 1339.2 1007.8 1338 1020" stroke="#555" stroke-width="1.8" fill="none"/>
<ellipse cx="1356" cy="1001" rx="54" ry="19" transform="rotate(-49 1356 1001)" stroke="#111" stroke-width="3.1" fill="#fff"/>
<path d="M1328 1031 C1332.2 1027.5 1346 1017.3 1353 1010 C1360 1002.7 1366.8 993.7 1370 987 C1373.2 980.3 1371.7 972.8 1372 970" stroke="#444" stroke-width="2" fill="none"/>
<path d="M1331 1034 C1335.2 1030.5 1349 1020.3 1356 1013 C1363 1005.7 1369.8 996.8 1373 990 C1376.2 983.2 1374.7 975 1375 972" stroke="#777" stroke-width="1.5" fill="none"/>
<path d="M1321.8 900 C1321.6 905.7 1321.5 924.8 1320.7 934.4 C1320 944 1317.3 945.9 1317.3 957.4 C1317.3 968.9 1319.8 989.2 1320.7 1003.3 C1321.7 1017.4 1322.6 1035.5 1323 1042" stroke="#111" stroke-width="3.1" fill="none"/>
<path d="M1330 900 C1329.7 908.3 1328.7 933.3 1328 950 C1327.3 966.7 1326.2 985 1326 1000 C1325.8 1015 1326.8 1033.3 1327 1040" stroke="#666" stroke-width="1.6" fill="none"/>
<path d="M1337 900 C1336.7 908.3 1335.7 933.3 1335 950 C1334.3 966.7 1333.5 985 1333 1000 C1332.5 1015 1332.2 1033.3 1332 1040" stroke="#666" stroke-width="1.6" fill="none"/>
<path d="M1344 900 C1343.8 906.7 1344 925.8 1343 940 C1342 954.2 1340.2 970 1338 985 C1335.8 1000 1331.3 1022.5 1330 1030" stroke="#777" stroke-width="1.6" fill="none"/>
<path d="M1263.2 965.3 C1265.1 961.8 1270.7 949.2 1274.5 944.5 C1278.3 939.8 1279.6 939.2 1285.9 937 C1292.2 934.8 1307.9 932.2 1312.3 931.3" stroke="#222" stroke-width="2.5" fill="none"/>
<path d="M1270.7 963.4 C1272.9 964 1277.1 969.1 1284 967.2 C1290.9 965.3 1307.6 954.6 1312.3 952.1" stroke="#666" stroke-width="1.8" fill="none"/>
<path d="M1236.7 975.7 L1317 935" stroke="#111" stroke-width="3" fill="none"/>
<path d="M1238.6 954 L1238.6 968 L1234 973 L1234 1015" stroke="#333" stroke-width="2" fill="none"/>
<path d="M1261.3 968 L1261.3 1003" stroke="#555" stroke-width="1.8" fill="none"/>
<path d="M1259.9 971.2 C1260.2 974.3 1261.2 984.6 1262 990 C1262.8 995.4 1264 1001.1 1264.4 1003.3" stroke="#666" stroke-width="1.8" fill="none"/>
<path d="M1264.4 1003.3 C1266.3 1006 1266.3 1012.9 1275.9 1019.4 C1285.5 1025.9 1314.2 1038.6 1321.8 1042.4" stroke="#222" stroke-width="2.1" fill="none"/>
<path d="M1230 1018.3 L1264.4 1003.3" stroke="#111" stroke-width="3" fill="none"/>
<path d="M1235.7 1020.6 L1235.7 1055" stroke="#111" stroke-width="3.1" fill="none"/>
<path d="M1235.7 971.2 L1234 1015" stroke="#666" stroke-width="1.6" fill="none"/>
<path d="M1396.5 968.9 C1397.6 969.5 1397.4 971.7 1403 972.5 C1408.6 973.3 1423.8 973.4 1430 973.5 C1436.2 973.6 1438.3 973.1 1440 973" stroke="#111" stroke-width="3.4" fill="none"/>
<path d="M1316.6 693.4 C1316.6 693.4 1310.3 699.7 1317.5 690 C1324.7 680.3 1346.2 651.7 1360 635 C1373.8 618.3 1388.8 599.4 1400 590 C1411.2 580.6 1417.5 579.2 1427.5 578.8 C1437.5 578.3 1450.8 581.5 1460 587.5 C1469.2 593.5 1478.3 607.1 1482.5 615 C1486.7 622.9 1485.8 627.5 1485 635 C1484.2 642.5 1480.7 652.9 1477.5 660 C1474.3 667.1 1466 677.5 1466 677.5 C1466 677.5 1486.7 708.3 1492.5 720 C1498.3 731.7 1501 738.8 1501 747.5 C1501 756.2 1499.3 763.8 1492.5 772.5 C1485.7 781.2 1472.1 790.4 1460 800 C1447.9 809.6 1427 823.5 1420 830 C1413 836.5 1418 838.8 1418 838.8" stroke="#111" stroke-width="3.8" fill="none"/>
<path d="M1340 705 C1347.5 696.7 1370.8 674.2 1385 655 C1399.2 635.8 1418.3 600.8 1425 590" stroke="#333" stroke-width="1.9" fill="none"/>
<path d="M1385 740 C1385 733.3 1384.6 712.1 1385 700 C1385.4 687.9 1384.5 676.7 1387.5 667.5 C1390.5 658.3 1397.2 650.2 1403 645 C1408.8 639.8 1419.2 637.5 1422.5 636" stroke="#333" stroke-width="1.9" fill="none"/>
<path d="M1435 665 C1432.9 666.7 1423.3 669.2 1422.5 675 C1421.7 680.8 1425 690.4 1430 700 C1435 709.6 1449.2 724.2 1452.5 732.5 C1455.8 740.8 1450.4 747.1 1450 750" stroke="#333" stroke-width="1.9" fill="none"/>
<path d="M1387.5 750 C1391.7 747.5 1405.4 736.7 1412.5 735 C1419.6 733.3 1425.4 737.5 1430 740 C1434.6 742.5 1441.7 745.8 1440 750 C1438.3 754.2 1426.7 760.8 1420 765 C1413.3 769.2 1403.3 773.3 1400 775" stroke="#111" stroke-width="3.4" fill="none"/>
<path d="M1467.5 640 C1466.2 643.3 1460.2 653.8 1460 660 C1459.8 666.2 1465 674.2 1466 677" stroke="#333" stroke-width="1.9" fill="none"/>
<path d="M1410 807.5 L1487.5 770" stroke="#333" stroke-width="1.9" fill="none"/>
<path d="M1401.7 980 C1408.1 979.9 1427 980 1440 979.5 C1453 979 1462.2 982.1 1480 977 C1497.8 971.9 1535.6 953.7 1546.7 949" stroke="#444" stroke-width="1.9" fill="none"/>
<path d="M1401 983 C1407.5 982.9 1426.8 983 1440 982.5 C1453.2 982 1463.3 984.6 1480 980 C1496.7 975.4 1530 959.2 1540 955" stroke="#777" stroke-width="1.5" fill="none"/>
<path d="M1385 1005 C1395.8 1003.9 1431.4 1002.2 1450 998.3 C1468.6 994.4 1482 989.2 1496.7 981.7 C1511.4 974.2 1531.4 958 1538.3 953.3" stroke="#444" stroke-width="2" fill="none"/>
<ellipse cx="1580" cy="961.2" rx="10" ry="8.5" fill="#c4c4c4" stroke="#5a5a5a" stroke-width="2.4"/>
<ellipse cx="1580" cy="960.8" rx="4.5" ry="3.6" fill="#fafafa"/>
<ellipse cx="1600" cy="978.8" rx="10" ry="8.5" fill="#c4c4c4" stroke="#5a5a5a" stroke-width="2.4"/>
<ellipse cx="1600" cy="978.2" rx="4.5" ry="3.6" fill="#fafafa"/>
<ellipse cx="1553.8" cy="972.5" rx="10" ry="8.5" fill="#c4c4c4" stroke="#5a5a5a" stroke-width="2.4"/>
<ellipse cx="1553.8" cy="972" rx="4.5" ry="3.6" fill="#fafafa"/>
<ellipse cx="1530" cy="987.5" rx="10" ry="8.5" fill="#c4c4c4" stroke="#5a5a5a" stroke-width="2.4"/>
<ellipse cx="1530" cy="987" rx="4.5" ry="3.6" fill="#fafafa"/>
<ellipse cx="1505" cy="1001.2" rx="10" ry="8.5" fill="#c4c4c4" stroke="#5a5a5a" stroke-width="2.4"/>
<ellipse cx="1505" cy="1000.8" rx="4.5" ry="3.6" fill="#fafafa"/>
<ellipse cx="1481.2" cy="1011.2" rx="10" ry="8.5" fill="#c4c4c4" stroke="#5a5a5a" stroke-width="2.4"/>
<ellipse cx="1481.2" cy="1010.8" rx="4.5" ry="3.6" fill="#fafafa"/>
<ellipse cx="1573.8" cy="985" rx="10" ry="8.5" fill="#c4c4c4" stroke="#5a5a5a" stroke-width="2.4"/>
<ellipse cx="1573.8" cy="984.5" rx="4.5" ry="3.6" fill="#fafafa"/>
<ellipse cx="1547.5" cy="996.2" rx="10" ry="8.5" fill="#c4c4c4" stroke="#5a5a5a" stroke-width="2.4"/>
<ellipse cx="1547.5" cy="995.8" rx="4.5" ry="3.6" fill="#fafafa"/>
<ellipse cx="1530" cy="1010" rx="10" ry="8.5" fill="#c4c4c4" stroke="#5a5a5a" stroke-width="2.4"/>
<ellipse cx="1530" cy="1009.5" rx="4.5" ry="3.6" fill="#fafafa"/>
<ellipse cx="1565" cy="1007.5" rx="10" ry="8.5" fill="#c4c4c4" stroke="#5a5a5a" stroke-width="2.4"/>
<ellipse cx="1565" cy="1007" rx="4.5" ry="3.6" fill="#fafafa"/>
<ellipse cx="1585" cy="1000" rx="10" ry="8.5" fill="#c4c4c4" stroke="#5a5a5a" stroke-width="2.4"/>
<ellipse cx="1585" cy="999.5" rx="4.5" ry="3.6" fill="#fafafa"/>
<ellipse cx="1605" cy="1003.8" rx="10" ry="8.5" fill="#c4c4c4" stroke="#5a5a5a" stroke-width="2.4"/>
<ellipse cx="1605" cy="1003.2" rx="4.5" ry="3.6" fill="#fafafa"/>
<ellipse cx="1546.2" cy="1022.5" rx="10" ry="8.5" fill="#c4c4c4" stroke="#5a5a5a" stroke-width="2.4"/>
<ellipse cx="1546.2" cy="1022" rx="4.5" ry="3.6" fill="#fafafa"/>
<ellipse cx="1572.5" cy="1021.2" rx="10" ry="8.5" fill="#c4c4c4" stroke="#5a5a5a" stroke-width="2.4"/>
<ellipse cx="1572.5" cy="1020.8" rx="4.5" ry="3.6" fill="#fafafa"/>
<ellipse cx="1555" cy="1038.8" rx="10" ry="8.5" fill="#c4c4c4" stroke="#5a5a5a" stroke-width="2.4"/>
<ellipse cx="1555" cy="1038.2" rx="4.5" ry="3.6" fill="#fafafa"/>
<ellipse cx="1591.2" cy="1025" rx="10" ry="8.5" fill="#c4c4c4" stroke="#5a5a5a" stroke-width="2.4"/>
<ellipse cx="1591.2" cy="1024.5" rx="4.5" ry="3.6" fill="#fafafa"/>
<ellipse cx="1573.8" cy="1043.8" rx="10" ry="8.5" fill="#c4c4c4" stroke="#5a5a5a" stroke-width="2.4"/>
<ellipse cx="1573.8" cy="1043.2" rx="4.5" ry="3.6" fill="#fafafa"/>
<ellipse cx="1532.5" cy="1052.5" rx="10" ry="8.5" fill="#c4c4c4" stroke="#5a5a5a" stroke-width="2.4"/>
<ellipse cx="1532.5" cy="1052" rx="4.5" ry="3.6" fill="#fafafa"/>
<ellipse cx="1512.5" cy="1066.2" rx="10" ry="8.5" fill="#c4c4c4" stroke="#5a5a5a" stroke-width="2.4"/>
<ellipse cx="1512.5" cy="1065.8" rx="4.5" ry="3.6" fill="#fafafa"/>
<ellipse cx="1488.8" cy="1077.5" rx="10" ry="8.5" fill="#c4c4c4" stroke="#5a5a5a" stroke-width="2.4"/>
<ellipse cx="1488.8" cy="1077" rx="4.5" ry="3.6" fill="#fafafa"/>
<ellipse cx="1551.2" cy="1060" rx="10" ry="8.5" fill="#c4c4c4" stroke="#5a5a5a" stroke-width="2.4"/>
<ellipse cx="1551.2" cy="1059.5" rx="4.5" ry="3.6" fill="#fafafa"/>
<ellipse cx="1530" cy="1077.5" rx="10" ry="8.5" fill="#c4c4c4" stroke="#5a5a5a" stroke-width="2.4"/>
<ellipse cx="1530" cy="1077" rx="4.5" ry="3.6" fill="#fafafa"/>
<ellipse cx="1505" cy="1090" rx="10" ry="8.5" fill="#c4c4c4" stroke="#5a5a5a" stroke-width="2.4"/>
<ellipse cx="1505" cy="1089.5" rx="4.5" ry="3.6" fill="#fafafa"/>
<ellipse cx="1365" cy="1060" rx="10" ry="8.5" fill="#c4c4c4" stroke="#5a5a5a" stroke-width="2.4"/>
<ellipse cx="1365" cy="1059.5" rx="4.5" ry="3.6" fill="#fafafa"/>
<ellipse cx="1387.5" cy="1055" rx="10" ry="8.5" fill="#c4c4c4" stroke="#5a5a5a" stroke-width="2.4"/>
<ellipse cx="1387.5" cy="1054.5" rx="4.5" ry="3.6" fill="#fafafa"/>
<ellipse cx="1382.5" cy="1077.5" rx="10" ry="8.5" fill="#c4c4c4" stroke="#5a5a5a" stroke-width="2.4"/>
<ellipse cx="1382.5" cy="1077" rx="4.5" ry="3.6" fill="#fafafa"/>
<ellipse cx="1407.5" cy="1070" rx="10" ry="8.5" fill="#c4c4c4" stroke="#5a5a5a" stroke-width="2.4"/>
<ellipse cx="1407.5" cy="1069.5" rx="4.5" ry="3.6" fill="#fafafa"/>
<ellipse cx="1402.5" cy="1090" rx="10" ry="8.5" fill="#c4c4c4" stroke="#5a5a5a" stroke-width="2.4"/>
<ellipse cx="1402.5" cy="1089.5" rx="4.5" ry="3.6" fill="#fafafa"/>
<ellipse cx="1428.8" cy="1082.5" rx="10" ry="8.5" fill="#c4c4c4" stroke="#5a5a5a" stroke-width="2.4"/>
<ellipse cx="1428.8" cy="1082" rx="4.5" ry="3.6" fill="#fafafa"/>
<ellipse cx="1426.2" cy="1101.2" rx="10" ry="8.5" fill="#c4c4c4" stroke="#5a5a5a" stroke-width="2.4"/>
<ellipse cx="1426.2" cy="1100.8" rx="4.5" ry="3.6" fill="#fafafa"/>
<ellipse cx="1458.8" cy="1082.5" rx="10" ry="8.5" fill="#c4c4c4" stroke="#5a5a5a" stroke-width="2.4"/>
<ellipse cx="1458.8" cy="1082" rx="4.5" ry="3.6" fill="#fafafa"/>
<ellipse cx="1452.5" cy="1102.5" rx="10" ry="8.5" fill="#c4c4c4" stroke="#5a5a5a" stroke-width="2.4"/>
<ellipse cx="1452.5" cy="1102" rx="4.5" ry="3.6" fill="#fafafa"/>
<ellipse cx="1477.5" cy="1097.5" rx="10" ry="8.5" fill="#c4c4c4" stroke="#5a5a5a" stroke-width="2.4"/>
<ellipse cx="1477.5" cy="1097" rx="4.5" ry="3.6" fill="#fafafa"/>
<path d="M1346 992 L1398 1022" stroke="#444" stroke-width="1.8" fill="none"/>
</g></svg></body></html>
